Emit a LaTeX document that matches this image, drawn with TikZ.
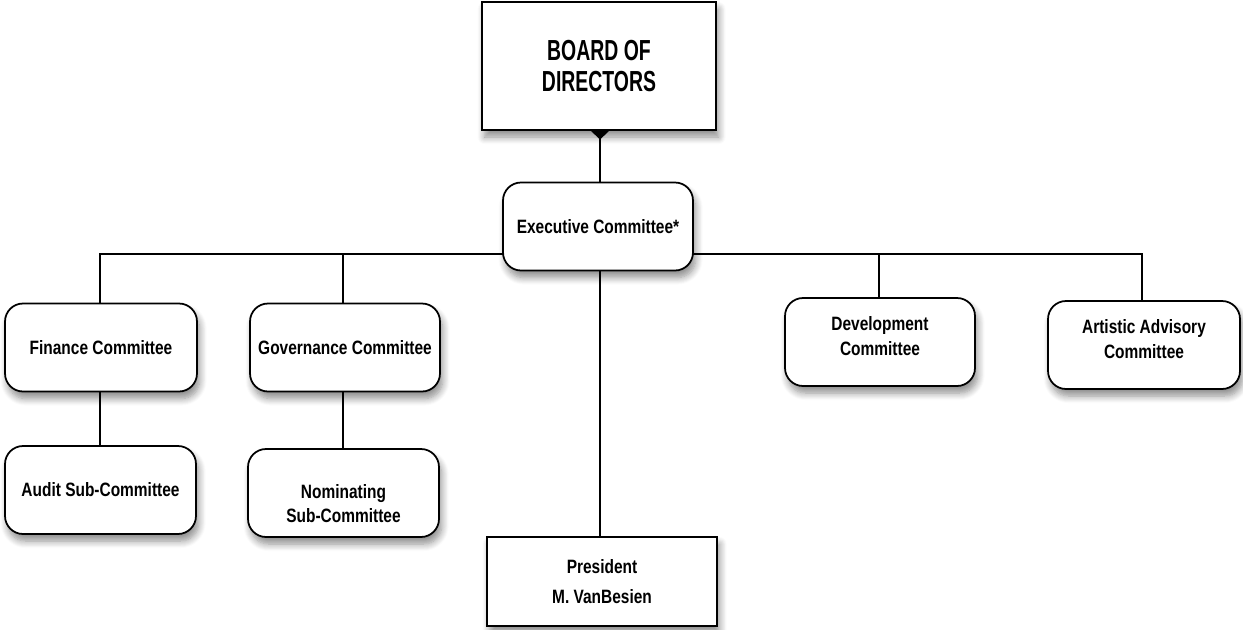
\documentclass[tikz,border=0pt]{standalone}
\usepackage{fontspec}
\setmainfont{Liberation Sans}[FakeStretch=0.8]
\newfontfamily\boardfont{Liberation Sans}[FakeStretch=0.67]
\usetikzlibrary{shadows.blur,arrows.meta,backgrounds}

\tikzset{
  orgbox/.style={draw,line width=1pt,fill=white,align=center,inner sep=2pt,
    font=\bfseries\fontsize{11}{14}\selectfont,
    blur shadow={shadow xshift=1.5pt,shadow yshift=-4pt,shadow blur radius=4pt,
      shadow blur steps=8,shadow opacity=45}},
  cttee/.style={orgbox,rounded corners=0.36cm,minimum width=3.8cm,minimum height=1.76cm},
  board/.style={orgbox,minimum width=4.68cm,minimum height=2.56cm,
    font=\boardfont\bfseries\fontsize{16.5}{17.5}\selectfont},
  presbox/.style={orgbox,minimum width=4.6cm,minimum height=1.78cm,
    font=\bfseries\fontsize{11}{17}\selectfont},
  link/.style={line width=1pt}
}

\begin{document}
\begin{tikzpicture}[x=0.02cm,y=-0.02cm]
\useasboundingbox (0,0) rectangle (1243,629);

\begin{scope}
\pgfmathsetmacro{\busy}{254}

\node[board] (bod) at (599,66) {BOARD OF\\DIRECTORS};
\node[cttee] (exec) at (598,226.5) {Executive Committee*};

\node[cttee,minimum width=3.84cm] (fin) at (101,347.5) {Finance Committee};
\node[cttee] (gov) at (345,347.5) {Governance Committee};
\node[cttee] (dev) at (880,342) {Development\\Committee\\[-7pt]\mbox{}};
\node[cttee,minimum width=3.84cm] (art) at (1144,345) {Artistic Advisory\\Committee\\[-7pt]\mbox{}};

\node[cttee,minimum width=3.82cm] (audit) at (100.5,490) {Audit Sub-Committee};
\node[cttee,minimum width=3.82cm] (nom) at (343.5,493) {\mbox{}\\[6pt]Nominating\\Sub-Committee};

\node[presbox] (pres) at (602,581.5) {President\\M. VanBesien};

\coordinate (bus) at (600,\busy);

\begin{scope}[on background layer]
\draw[link,{Triangle[reversed,width=10pt,length=5pt]}-] (bod.south -| bus) -- (exec.north -| bus);
\draw[link] (fin.north -| 100,0) |- (bus) -| (art.north -| 1142,0);
\draw[link] (gov.north -| 343,0) -- (343,\busy);
\draw[link] (dev.north -| 879,0) -- (879,\busy);
\draw[link] (exec.south -| bus) -- (pres.north -| bus);
\draw[link] (fin.south -| 100,0) -- (audit.north -| 100,0);
\draw[link] (gov.south -| 343,0) -- (nom.north -| 343,0);
\end{scope}

\end{scope}

\end{tikzpicture}
\end{document}
